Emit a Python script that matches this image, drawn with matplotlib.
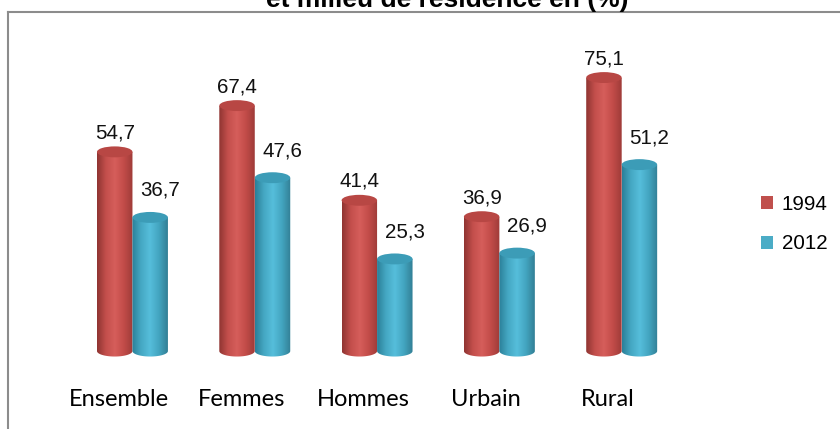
import matplotlib.pyplot as plt
import numpy as np
from matplotlib.patches import Ellipse, Patch
from matplotlib.colors import LinearSegmentedColormap
from matplotlib.lines import Line2D

## -------------------- Data
categories = ['Ensemble', 'Femmes', 'Hommes', 'Urbain', 'Rural']
series = ['1994', '2012']
values_1994 = [54.7, 67.4, 41.4, 36.9, 75.1]
values_2012 = [36.7, 47.6, 25.3, 26.9, 51.2]
title = 'et milieu de résidence en (%)'

## -------------------- Styles
body_colors = [['#8f3431', '#c44f4c', '#d65e5b', '#c24c49', '#9e3b38'],
               ['#2b7f98', '#45a8c3', '#56bedb', '#43a5c0', '#327f95']]
cap_colors = ['#b84744', '#3c9cb7']
legend_colors = ['#c0504d', '#4bacc6']
bar_w = 0.29
cap_h = 3.0
label_dy = [5.2, 7.4]
label_dx = [0.0, 0.08]

fig = plt.figure(figsize=(8.4, 4.29), dpi=100)
ax = fig.add_axes([0, 0, 1, 1])
ax.set_xlim(-1.083, 5.785)
ax.set_ylim(-21.4, 96.4)
ax.axis('off')

def cylinder(xc, v, k):
    # body with a horizontal shading, clipped to rectangle + rounded bottom
    x0, x1 = xc - bar_w / 2, xc + bar_w / 2
    t = np.linspace(np.pi, 2 * np.pi, 40)
    bx = xc + bar_w / 2 * np.cos(t)
    by = cap_h / 2 * np.sin(t)
    verts = list(zip(bx, by)) + [(x1, v), (x0, v), (x0, 0)]
    cmap = LinearSegmentedColormap.from_list('c%d' % k, body_colors[k])
    grad = np.linspace(0, 1, 200).reshape(1, -1)
    im = ax.imshow(grad, cmap=cmap, extent=[x0, x1, -cap_h / 2, v],
                   aspect='auto', zorder=2 + k, interpolation='bilinear')
    poly = plt.Polygon(verts, closed=True, facecolor='none', edgecolor='none',
                       transform=ax.transData)
    ax.add_patch(poly)
    im.set_clip_path(poly)
    # top cap
    ax.add_patch(Ellipse((xc, v), bar_w, cap_h, facecolor=cap_colors[k],
                         edgecolor='none', zorder=2 + k))

x = np.arange(len(categories))
for k, vals in enumerate([values_1994, values_2012]):
    for i, v in enumerate(vals):
        xc = x[i] + (k - 0.5) * bar_w
        cylinder(xc, v, k)
        ax.text(xc + label_dx[k], v + label_dy[k], f'{v:.1f}'.replace('.', ','),
                ha='center', va='center', fontsize=14.8, family='Liberation Sans',
                color='#111111', zorder=10)

for i, c in enumerate(categories):
    ax.text(x[i] - 0.11, -15.1, c, ha='center', va='baseline', fontsize=17,
            family='Lato', color='black')

handles = [Patch(facecolor=legend_colors[k], edgecolor='none') for k in range(2)]
fig.legend(handles, series, loc='center left', bbox_to_anchor=(761 / 840, 1 - 224 / 429),
           frameon=False, borderpad=0, borderaxespad=0,
           handlelength=0.6, handleheight=0.6, handletextpad=0.4,
           labelspacing=1.0, prop={'family': 'Liberation Sans', 'size': 14.8})

## -------------------- Frame lines and cut-off title
fig.add_artist(Line2D([7.5 / 840, 1], [1 - 11.5 / 429] * 2, color='#8c8c8c', lw=1.5))
fig.add_artist(Line2D([7.5 / 840] * 2, [0, 1 - 11.5 / 429], color='#8c8c8c', lw=1.5))
fig.text(447 / 840, 1 - 7 / 429, title, ha='center', va='baseline', fontsize=19,
         fontweight='bold', family='Liberation Sans')

fig.savefig('out.png', dpi=100)
